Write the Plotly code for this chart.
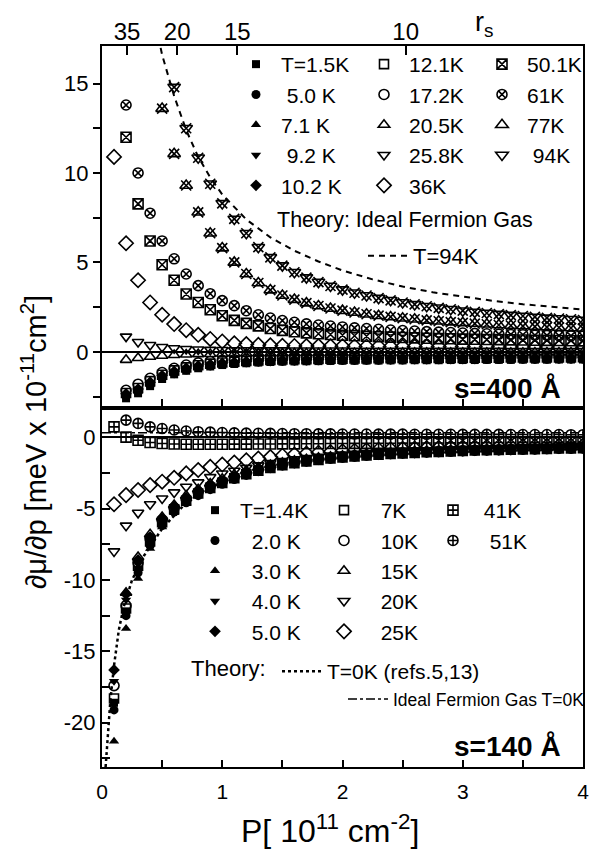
import plotly.graph_objects as go

# ---------------- data ----------------
P = [0.1, 0.2, 0.3, 0.4, 0.5, 0.6, 0.7, 0.8, 0.9, 1.0,
     1.1, 1.2, 1.3, 1.4, 1.5, 1.6, 1.7, 1.8, 1.9, 2.0,
     2.1, 2.2, 2.3, 2.4, 2.5, 2.6, 2.7, 2.8, 2.9, 3.0,
     3.1, 3.2, 3.3, 3.4, 3.5, 3.6, 3.7, 3.8, 3.9, 4.0]

# s = 400 A panel
T400_1_5 = [None, -2.60, -2.32, -1.92, -1.52, -1.26, -1.06, -0.92, -0.82, -0.74, -0.68, -0.64, -0.60, -0.57, -0.55, -0.54, -0.53, -0.52, -0.51, -0.50, -0.50, -0.49, -0.49, -0.48, -0.48, -0.47, -0.47, -0.47, -0.46, -0.46, -0.46, -0.45, -0.45, -0.45, -0.44, -0.44, -0.44, -0.43, -0.43, -0.43]
T400_5_0 = [None, -2.50, -2.26, -1.88, -1.48, -1.22, -1.02, -0.88, -0.79, -0.71, -0.65, -0.61, -0.57, -0.55, -0.53, -0.52, -0.51, -0.50, -0.49, -0.48, -0.48, -0.47, -0.47, -0.46, -0.46, -0.45, -0.45, -0.45, -0.44, -0.44, -0.44, -0.43, -0.43, -0.43, -0.42, -0.42, -0.42, -0.41, -0.41, -0.41]
T400_7_1 = [None, -2.45, -2.20, -1.82, -1.43, -1.18, -0.99, -0.85, -0.76, -0.68, -0.62, -0.58, -0.55, -0.52, -0.50, -0.49, -0.48, -0.47, -0.46, -0.45, -0.45, -0.44, -0.44, -0.43, -0.43, -0.42, -0.42, -0.42, -0.41, -0.41, -0.41, -0.40, -0.40, -0.40, -0.39, -0.39, -0.39, -0.38, -0.38, -0.38]
T400_9_2 = [None, -2.40, -2.14, -1.76, -1.38, -1.13, -0.95, -0.82, -0.73, -0.65, -0.60, -0.56, -0.53, -0.50, -0.48, -0.47, -0.46, -0.45, -0.44, -0.43, -0.42, -0.42, -0.41, -0.41, -0.40, -0.40, -0.40, -0.39, -0.39, -0.39, -0.38, -0.38, -0.38, -0.37, -0.37, -0.37, -0.36, -0.36, -0.36, -0.35]
T400_10_2 = [None, -2.35, -2.08, -1.70, -1.33, -1.09, -0.91, -0.79, -0.70, -0.63, -0.58, -0.54, -0.51, -0.48, -0.46, -0.45, -0.44, -0.43, -0.42, -0.41, -0.40, -0.40, -0.39, -0.39, -0.38, -0.38, -0.38, -0.37, -0.37, -0.37, -0.36, -0.36, -0.36, -0.35, -0.35, -0.35, -0.34, -0.34, -0.34, -0.33]
T400_12_1 = [None, -2.30, -2.02, -1.64, -1.28, -1.04, -0.87, -0.75, -0.66, -0.60, -0.55, -0.51, -0.48, -0.45, -0.43, -0.42, -0.41, -0.40, -0.39, -0.38, -0.37, -0.37, -0.36, -0.36, -0.35, -0.35, -0.35, -0.34, -0.34, -0.34, -0.33, -0.33, -0.33, -0.32, -0.32, -0.32, -0.31, -0.31, -0.31, -0.30]
T400_17_2 = [None, -2.15, -1.81, -1.48, -1.16, -0.92, -0.74, -0.62, -0.54, -0.48, -0.44, -0.41, -0.38, -0.36, -0.34, -0.33, -0.32, -0.31, -0.30, -0.29, -0.29, -0.28, -0.28, -0.27, -0.27, -0.26, -0.26, -0.26, -0.25, -0.25, -0.25, -0.24, -0.24, -0.24, -0.23, -0.23, -0.23, -0.22, -0.22, -0.22]
T400_20_5 = [None, -0.45, -0.35, -0.28, -0.22, -0.18, -0.15, -0.13, -0.12, -0.11, -0.10, -0.10, -0.09, -0.09, -0.09, -0.08, -0.08, -0.08, -0.08, -0.07, -0.07, -0.07, -0.07, -0.07, -0.06, -0.06, -0.06, -0.06, -0.06, -0.05, -0.05, -0.05, -0.05, -0.05, -0.05, -0.04, -0.04, -0.04, -0.04, -0.04]
T400_25_8 = [None, 0.85, 0.55, 0.38, 0.27, 0.20, 0.16, 0.13, 0.11, 0.10, 0.09, 0.09, 0.08, 0.08, 0.08, 0.07, 0.07, 0.07, 0.07, 0.07, 0.06, 0.06, 0.06, 0.06, 0.06, 0.06, 0.05, 0.05, 0.05, 0.05, 0.05, 0.05, 0.05, 0.04, 0.04, 0.04, 0.04, 0.04, 0.04, 0.04]
T400_36 = [10.9, 6.07, 4.00, 2.76, 2.07, 1.55, 1.21, 0.95, 0.72, 0.58, 0.48, 0.43, 0.39, 0.36, 0.34, 0.33, 0.32, 0.32, 0.31, 0.31, 0.30, 0.30, 0.30, 0.29, 0.29, 0.29, 0.29, 0.28, 0.28, 0.28, 0.28, 0.28, 0.27, 0.27, 0.27, 0.27, 0.27, 0.26, 0.26, 0.26]
T400_50_1 = [None, 12.0, 8.27, 6.20, 4.87, 4.00, 3.23, 2.76, 2.35, 2.02, 1.76, 1.59, 1.45, 1.30, 1.20, 1.12, 1.06, 1.01, 0.97, 0.93, 0.90, 0.87, 0.84, 0.82, 0.80, 0.78, 0.76, 0.74, 0.73, 0.71, 0.70, 0.69, 0.68, 0.67, 0.66, 0.65, 0.64, 0.63, 0.62, 0.61]
T400_61 = [None, 13.8, 10.0, 7.75, 6.20, 5.20, 4.35, 3.70, 3.25, 2.86, 2.58, 2.30, 2.07, 1.89, 1.75, 1.65, 1.56, 1.50, 1.44, 1.39, 1.34, 1.30, 1.26, 1.22, 1.19, 1.16, 1.13, 1.10, 1.08, 1.05, 1.03, 1.01, 0.99, 0.97, 0.95, 0.93, 0.92, 0.90, 0.89, 0.87]
T400_77 = [None, None, None, None, 13.6, 11.07, 9.30, 7.80, 6.63, 5.80, 5.00, 4.35, 3.85, 3.45, 3.15, 2.92, 2.72, 2.56, 2.42, 2.30, 2.20, 2.10, 2.02, 1.95, 1.88, 1.82, 1.76, 1.71, 1.66, 1.62, 1.58, 1.54, 1.50, 1.47, 1.44, 1.41, 1.38, 1.36, 1.33, 1.31]
T400_94 = [None, None, None, None, None, 14.8, 12.5, 10.85, 9.40, 8.30, 7.43, 6.63, 5.85, 5.28, 4.82, 4.45, 4.15, 3.90, 3.68, 3.48, 3.30, 3.15, 3.00, 2.88, 2.76, 2.65, 2.55, 2.46, 2.38, 2.30, 2.23, 2.17, 2.11, 2.05, 2.00, 1.95, 1.90, 1.86, 1.82, 1.78]

# Ideal Fermion gas, T=94K (dashed)
P_IFG94 = [0.45, 0.5, 0.6, 0.7, 0.8, 0.9, 1.0, 1.2, 1.4, 1.6, 1.8, 2.0, 2.25, 2.5, 2.75, 3.0, 3.25, 3.5, 3.75, 4.0]
V_IFG94 = [18.2, 16.6, 14.3, 12.4, 10.9, 9.75, 8.8, 7.4, 6.4, 5.65, 5.05, 4.55, 4.05, 3.65, 3.33, 3.07, 2.85, 2.66, 2.5, 2.36]

# s = 140 A panel
T140_1_4 = [-18.6, -12.2, -9.3, -7.4, -6.0, -5.1, -4.5, -4.0, -3.6, -3.25, -2.92, -2.63, -2.38, -2.17, -1.99, -1.84, -1.72, -1.61, -1.52, -1.44, -1.37, -1.31, -1.25, -1.20, -1.16, -1.12, -1.08, -1.05, -1.02, -0.99, -0.96, -0.94, -0.92, -0.90, -0.88, -0.86, -0.84, -0.82, -0.81, -0.79]
T140_2_0 = [-19.1, -12.5, -9.5, -7.6, -6.2, -5.25, -4.6, -4.1, -3.68, -3.3, -2.97, -2.68, -2.42, -2.21, -2.02, -1.87, -1.74, -1.63, -1.54, -1.46, -1.39, -1.32, -1.26, -1.21, -1.17, -1.13, -1.09, -1.06, -1.03, -1.00, -0.97, -0.95, -0.93, -0.91, -0.89, -0.87, -0.85, -0.83, -0.82, -0.80]
T140_3_0 = [-21.3, -13.4, -9.9, -7.8, -6.3, -5.3, -4.6, -3.95, -3.5, -3.1, -2.7, -2.4, -2.15, -1.95, -1.8, -1.68, -1.58, -1.49, -1.41, -1.34, -1.28, -1.23, -1.18, -1.14, -1.10, -1.06, -1.03, -1.00, -0.97, -0.95, -0.92, -0.90, -0.88, -0.86, -0.84, -0.82, -0.80, -0.79, -0.77, -0.76]
T140_4_0 = [-17.1, -11.4, -8.9, -7.2, -5.9, -5.0, -4.4, -3.9, -3.5, -3.15, -2.85, -2.57, -2.33, -2.13, -1.96, -1.82, -1.70, -1.59, -1.50, -1.42, -1.35, -1.29, -1.24, -1.19, -1.15, -1.11, -1.07, -1.04, -1.01, -0.98, -0.95, -0.93, -0.91, -0.89, -0.87, -0.85, -0.83, -0.81, -0.80, -0.78]
T140_5_0 = [-16.3, -11.0, -8.6, -7.0, -5.7, -4.85, -4.25, -3.8, -3.42, -3.08, -2.78, -2.5, -2.27, -2.08, -1.92, -1.78, -1.66, -1.56, -1.47, -1.39, -1.32, -1.26, -1.21, -1.16, -1.12, -1.08, -1.05, -1.02, -0.99, -0.96, -0.93, -0.91, -0.89, -0.87, -0.85, -0.83, -0.81, -0.79, -0.78, -0.76]
T140_7 = [-18.3, -12.0, -9.0, -7.3, -5.95, -5.05, -4.45, -3.95, -3.55, -3.2, -2.88, -2.6, -2.35, -2.15, -1.97, -1.82, -1.7, -1.59, -1.5, -1.42, -1.35, -1.29, -1.23, -1.18, -1.14, -1.1, -1.06, -1.03, -1.0, -0.97, -0.94, -0.92, -0.9, -0.88, -0.86, -0.84, -0.82, -0.8, -0.79, -0.77]
T140_10 = [-17.4, -11.8, -8.8, -7.1, -5.8, -4.95, -4.35, -3.85, -3.45, -3.1, -2.8, -2.52, -2.28, -2.08, -1.91, -1.77, -1.65, -1.55, -1.46, -1.38, -1.31, -1.25, -1.2, -1.15, -1.11, -1.07, -1.04, -1.01, -0.98, -0.95, -0.92, -0.9, -0.88, -0.86, -0.84, -0.82, -0.8, -0.78, -0.77, -0.75]
T140_15 = [None, -10.9, -8.4, -6.8, -5.6, -4.75, -4.1, -3.65, -3.25, -2.92, -2.62, -2.36, -2.14, -1.95, -1.79, -1.66, -1.55, -1.45, -1.37, -1.3, -1.23, -1.18, -1.13, -1.08, -1.04, -1.0, -0.97, -0.94, -0.91, -0.89, -0.86, -0.84, -0.82, -0.8, -0.78, -0.77, -0.75, -0.73, -0.72, -0.7]
T140_20 = [-8.0, -6.2, -5.3, -4.7, -4.3, -3.87, -3.47, -3.17, -2.8, -2.55, -2.35, -2.15, -1.98, -1.82, -1.68, -1.56, -1.46, -1.37, -1.29, -1.22, -1.16, -1.11, -1.06, -1.02, -0.98, -0.95, -0.92, -0.89, -0.86, -0.84, -0.82, -0.8, -0.78, -0.76, -0.74, -0.73, -0.71, -0.7, -0.68, -0.67]
T140_25 = [-4.7, -4.06, -3.7, -3.36, -3.12, -2.85, -2.54, -2.3, -2.08, -1.92, -1.78, -1.62, -1.5, -1.4, -1.3, -1.22, -1.15, -1.09, -1.04, -0.99, -0.95, -0.91, -0.88, -0.85, -0.82, -0.8, -0.77, -0.75, -0.73, -0.71, -0.7, -0.68, -0.67, -0.65, -0.64, -0.63, -0.62, -0.61, -0.6, -0.59]
T140_41 = [0.72, 0.0, -0.22, -0.38, -0.45, -0.48, -0.5, -0.5, -0.5, -0.5, -0.49, -0.49, -0.48, -0.48, -0.47, -0.47, -0.46, -0.46, -0.45, -0.45, -0.44, -0.44, -0.43, -0.43, -0.42, -0.42, -0.41, -0.41, -0.4, -0.4, -0.39, -0.39, -0.38, -0.38, -0.37, -0.37, -0.36, -0.36, -0.35, -0.35]
T140_51 = [None, 1.19, 0.96, 0.72, 0.60, 0.50, 0.43, 0.38, 0.35, 0.32, 0.30, 0.28, 0.27, 0.26, 0.25, 0.24, 0.24, 0.23, 0.23, 0.22, 0.22, 0.22, 0.21, 0.21, 0.21, 0.2, 0.2, 0.2, 0.2, 0.19, 0.19, 0.19, 0.19, 0.18, 0.18, 0.18, 0.18, 0.18, 0.17, 0.17]

# Theory T=0K (refs. 5,13), dotted
P_T0 = [0.03, 0.05, 0.07, 0.1, 0.14, 0.18, 0.25, 0.35, 0.5, 0.7, 1.0, 1.5, 2.0, 2.5, 3.0, 3.5, 4.0]
V_T0 = [-23.1, -20.8, -18.4, -16.0, -13.5, -11.9, -10.0, -8.3, -6.4, -4.6, -3.1, -1.85, -1.3, -1.0, -0.8, -0.68, -0.6]

# Ideal Fermion gas T=0K, dash-dot
P_IFG0 = [0.0, 4.0]
V_IFG0 = [0.3, 0.3]

# axis tick labels
RS_TICK_P = [0.208, 0.625, 1.125, 2.525]
RS_TICK_LABELS = ["35", "20", "15", "10"]
BOT_Y_TICKS = [-20, -15, -10, -5, 0]
BOT_Y_LABELS = ["-20", "-15", "-10", "-5", "0"]

# ---------------- figure ----------------
FONT = "Arial, 'Liberation Sans', sans-serif"
fig = go.Figure()


def add(xv, yv, name, symbol, legend, xa, ya, size=9, lw=1.6, showlegend=True):
    filled = not symbol.endswith("open")
    fig.add_trace(go.Scatter(
        x=xv, y=yv, mode="markers", name=name, legend=legend,
        xaxis=xa, yaxis=ya, showlegend=showlegend,
        marker=dict(symbol=symbol, size=size, color="black",
                    line=dict(color="black", width=0 if filled else lw)),
    ))


# top panel (x2, y2)
top_series = [
    (T400_1_5, "T=1.5K", "square", "legend", 8),
    (T400_5_0, " 5.0 K", "circle", "legend", 9),
    (T400_7_1, "7.1 K", "triangle-up", "legend", 9),
    (T400_9_2, " 9.2 K", "triangle-down", "legend", 9),
    (T400_10_2, "10.2 K", "diamond", "legend", 9),
    (T400_12_1, "12.1K", "square-open", "legend2", 9),
    (T400_17_2, "17.2K", "circle-open", "legend2", 10),
    (T400_20_5, "20.5K", "triangle-up-open", "legend2", 10),
    (T400_25_8, "25.8K", "triangle-down-open", "legend2", 10),
    (T400_36, "36K", "diamond-open", "legend2", 11),
    (T400_50_1, "50.1K", "square-x-open", "legend3", 10),
    (T400_61, "61K", "circle-x-open", "legend3", 10),
    (T400_77, "77K", "triangle-up-open", "legend3", 11),
    (T400_94, " 94K", "triangle-down-open", "legend3", 11),
]
for yv, name, sym, lg, sz in top_series:
    add(P, yv, name, sym, lg, "x2", "y2", size=sz)
# X overlays for the 77K and 94K symbols
add(P, T400_77, "77K", "x-thin-open", "legend3", "x2", "y2", size=10, lw=1.6, showlegend=False)
add(P, T400_94, "94K", "x-thin-open", "legend3", "x2", "y2", size=10, lw=1.6, showlegend=False)

fig.add_trace(go.Scatter(x=P_IFG94, y=V_IFG94, mode="lines", name="T=94K",
                         legend="legend4", xaxis="x2", yaxis="y2",
                         line=dict(color="black", width=2, dash="6px,5px")))

# invisible trace so the r_s axis is drawn
fig.add_trace(go.Scatter(x=RS_TICK_P, y=[None] * len(RS_TICK_P), mode="markers",
                         xaxis="x3", yaxis="y2", showlegend=False, hoverinfo="skip"))

# bottom panel (x, y)
bot_series = [
    (T140_1_4, "T=1.4K", "square", "legend5", 8),
    (T140_2_0, "  2.0 K", "circle", "legend5", 9),
    (T140_3_0, "  3.0 K", "triangle-up", "legend5", 9),
    (T140_4_0, "  4.0 K", "triangle-down", "legend5", 9),
    (T140_5_0, "  5.0 K", "diamond", "legend5", 9),
    (T140_7, "  7K", "square-open", "legend6", 9),
    (T140_10, "  10K", "circle-open", "legend6", 10),
    (T140_15, "  15K", "triangle-up-open", "legend6", 10),
    (T140_20, "  20K", "triangle-down-open", "legend6", 10),
    (T140_25, "  25K", "diamond-open", "legend6", 11),
    (T140_41, " 41K", "square-cross-open", "legend7", 10),
    (T140_51, "  51K", "circle-cross-open", "legend7", 10),
]
for yv, name, sym, lg, sz in bot_series:
    add(P, yv, name, sym, lg, "x", "y", size=sz)

fig.add_trace(go.Scatter(x=P_T0, y=V_T0, mode="lines", name="T=0K (refs.5,13)",
                         legend="legend8", xaxis="x", yaxis="y",
                         line=dict(color="black", width=2.5, dash="dot")))
fig.add_trace(go.Scatter(x=P_IFG0, y=V_IFG0, mode="lines", name="Ideal Fermion Gas T=0K",
                         legend="legend9", xaxis="x", yaxis="y",
                         line=dict(color="black", width=1.5, dash="dashdot")))

# ---------------- layout ----------------
W, H = 591, 852
L, R, T, B = 102, 8, 46, 85
PW, PH = W - L - R, H - T - B


def px(xp):
    return (xp - L) / PW


def py(yp):
    return (H - B - yp) / PH


xtickfont = dict(family=FONT, size=21, color="black")
ytickfont = dict(family=FONT, size=22, color="black")
axcommon = dict(showgrid=False, showline=True, linecolor="black", linewidth=2,
                mirror=True, tickcolor="black", tickwidth=1.5)

bot_top = 410
top_bot = 406
fig.update_layout(
    width=W, height=H,
    margin=dict(l=L, r=R, t=T, b=B, autoexpand=False),
    paper_bgcolor="white", plot_bgcolor="white",
    font=dict(family=FONT, size=20, color="black"),
    xaxis=dict(domain=[0, 1], range=[0, 4.0], anchor="y", ticks="inside", ticklen=7,
               dtick=1, tick0=0, zeroline=False, tickfont=xtickfont, ticklabelstandoff=5,
               minor=dict(dtick=0.5, ticks="inside", ticklen=7, tickcolor="black", tickwidth=1.5),
               **axcommon),
    yaxis=dict(domain=[0, py(bot_top)], range=[-23.1, 1.9], anchor="x", ticks="inside", ticklen=8,
               tickmode="array", tickvals=BOT_Y_TICKS, ticktext=BOT_Y_LABELS, tickfont=ytickfont,
               zeroline=True, zerolinecolor="black", zerolinewidth=1.5,
               minor=dict(tickmode="linear", tick0=0, dtick=2.5, ticks="inside", ticklen=8,
                          tickcolor="black", tickwidth=1.5),
               **axcommon),
    xaxis2=dict(domain=[0, 1], range=[0, 4.0], anchor="y2", matches="x", ticks="inside", ticklen=7,
                dtick=0.5, tick0=0, showticklabels=False, zeroline=False, **axcommon),
    yaxis2=dict(domain=[py(top_bot), 1], range=[-3.03, 17.1], anchor="x2", ticks="outside", ticklen=7,
                dtick=5, tick0=0, zeroline=True, zerolinecolor="black", zerolinewidth=1.5,
                tickfont=ytickfont,
                minor=dict(dtick=2.5, ticks="outside", ticklen=7, tickcolor="black", tickwidth=1.5),
                **axcommon),
    xaxis3=dict(range=[0, 4.0], overlaying="x2", anchor="y2", side="top", ticks="inside",
                ticklen=9, tickwidth=1.5, tickcolor="black", tickmode="array",
                tickvals=RS_TICK_P, ticktext=RS_TICK_LABELS, showticklabels=True,
                showgrid=False, showline=False, zeroline=False,
                tickfont=dict(family=FONT, size=24, color="black")),
    showlegend=True,
)

leg_common = dict(bgcolor="rgba(0,0,0,0)", borderwidth=0,
                  xanchor="left", yanchor="top", traceorder="normal", itemwidth=40,
                  tracegroupgap=0, itemclick=False, itemdoubleclick=False)
f21 = dict(family=FONT, size=21, color="black")
fig.update_layout(
    legend=dict(x=px(231), y=py(44), font=f21, **leg_common),
    legend2=dict(x=px(359), y=py(44), font=f21, **leg_common),
    legend3=dict(x=px(477), y=py(44), font=f21, **leg_common),
    legend4=dict(x=px(363), y=py(235), font=dict(family=FONT, size=22, color="black"), **leg_common),
    legend5=dict(x=px(190), y=py(490), font=f21, **leg_common),
    legend6=dict(x=px(319), y=py(490), font=f21, **leg_common),
    legend7=dict(x=px(428), y=py(490), font=f21, **leg_common),
    legend8=dict(x=px(277), y=py(651), font=f21, **leg_common),
    legend9=dict(x=px(343), y=py(681), font=dict(family=FONT, size=17.5, color="black"), **leg_common),
)

annos = [
    dict(text="Theory: Ideal Fermion Gas", x=px(275), y=py(220), xanchor="left", yanchor="middle",
         font=dict(size=21.5)),
    dict(text="Theory:", x=px(189), y=py(668), xanchor="left", yanchor="middle", font=dict(size=22)),
    dict(text="<b>s=400 Å</b>", x=px(563), y=py(388), xanchor="right", yanchor="middle",
         font=dict(size=28)),
    dict(text="<b>s=140 Å</b>", x=px(563), y=py(746), xanchor="right", yanchor="middle",
         font=dict(size=28)),
    dict(text="r<sub>s</sub>", x=px(484), y=py(24), xanchor="center", yanchor="middle",
         font=dict(size=27)),
    dict(text="P[ 10<sup>11</sup> cm<sup>-2</sup>]", x=px(330), y=py(829), xanchor="center",
         yanchor="middle", font=dict(size=32)),
    dict(text="∂μ/∂p [meV x 10<sup>-11</sup>cm<sup>2</sup>]", x=px(34), y=py(442), xanchor="center",
         yanchor="middle", textangle=-90, font=dict(size=29)),
]
for a in annos:
    a.update(xref="paper", yref="paper", showarrow=False)
    a["font"].update(family=FONT, color="black")
    fig.add_annotation(**a)

fig.write_html("out.html")
